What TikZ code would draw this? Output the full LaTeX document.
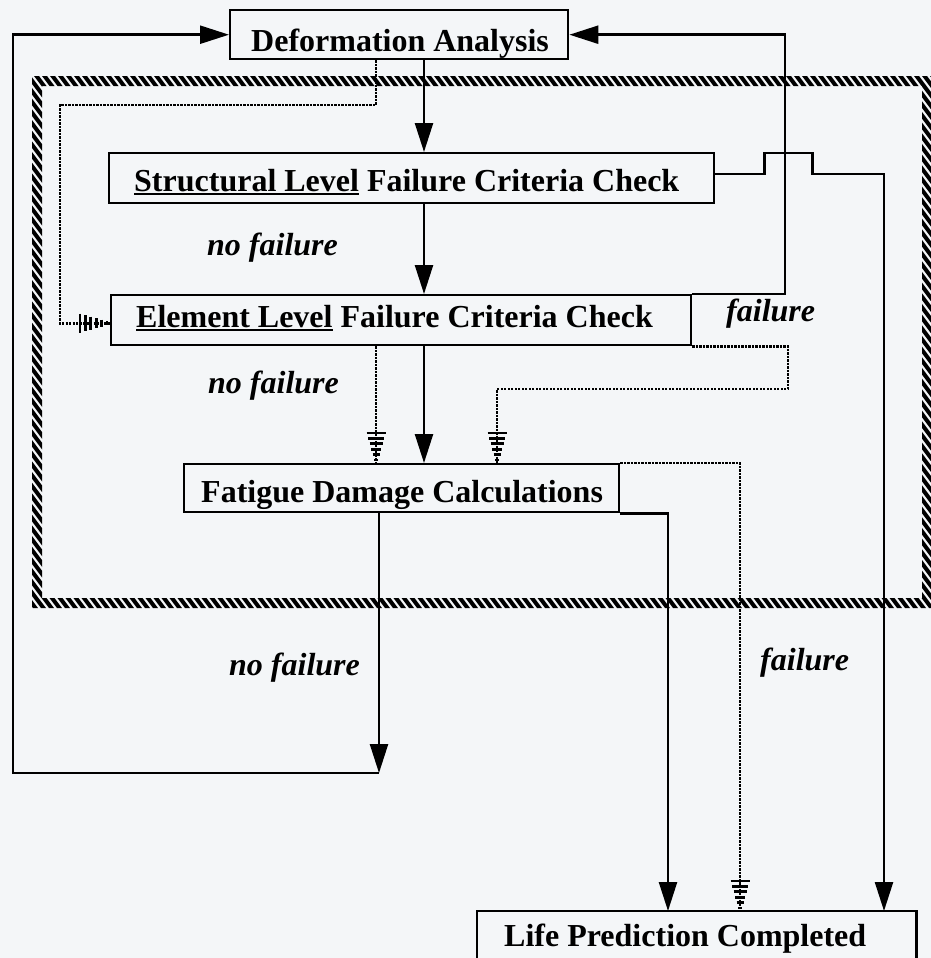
\documentclass[tikz,border=0pt]{standalone}
\usepackage{fontspec}
\setmainfont{Liberation Serif}
\usetikzlibrary{arrows.meta}
\definecolor{bgc}{RGB}{244,246,248}
\newcommand\bxt[3]{\hbox to #1pt{\hskip#2pt\relax #3\hfil}}
\newcommand\ulx[1]{\setbox0\hbox{#1}\rlap{\vrule width\wd0 height -2pt depth 3.8pt}\box0\relax}
\begin{document}
\begin{tikzpicture}[x=1pt,y=-1pt,
  box/.style={draw, line width=2.4pt, inner sep=0pt, anchor=north west, font=\fontsize{32}{38}\selectfont\bfseries},
  lab/.style={anchor=base west, inner sep=0pt, font=\fontsize{32}{38}\selectfont\bfseries\itshape},
  arr/.style={line width=2.4pt, -{Triangle[length=29pt,width=18pt]}},
  ln/.style={line width=2.4pt},
  dots/.style={line width=2.8pt, dash pattern=on 2.2pt off 1.3pt},
  pics/hatchdown/.style={code={\foreach \i in {0,...,5}{\draw[line width=2.8pt] (-2-1.5*\i,-3-5.4*\i) -- (2+1.5*\i,-3-5.4*\i);}}},
  pics/hatchright/.style={code={\foreach \i in {0,...,5}{\draw[line width=2.8pt] (-3-5.4*\i,-2-1.5*\i) -- (-3-5.4*\i,2+1.5*\i);}}},
]
\fill[bgc] (0,0) rectangle (931,958);
\path[use as bounding box] (0,0) rectangle (931,958);

% hatched frame
\begin{scope}
\clip (32,76) rectangle (931,86) (32,598) rectangle (931,608) (32,76) rectangle (42,608) (922,76) rectangle (931,608);
\foreach \c in {-560,-552,...,944} \draw[line width=4pt] (\c,70) -- ++(420,560);
\end{scope}

% boxes
\node[box, text height=41pt, text depth=8pt] (def) at (229,9) {\bxt{338}{21}{Deformation Analysis}};
\node[box, text height=38pt, text depth=12pt] (str) at (108,152) {\bxt{605}{25}{\ulx{Structural Level} Failure Criteria Check}};
\node[box, text height=32pt, text depth=18pt] (elem) at (110,294) {\bxt{580}{25}{\ulx{Element Level} Failure Criteria Check}};
\node[box, text height=38pt, text depth=10pt] (fat) at (183,463) {\bxt{435}{17}{Fatigue Damage Calculations}};
\node[box, draw=none, text height=34pt, text depth=16pt] (life) at (477,911) {\bxt{437}{26}{Life Prediction Completed}};
\draw[ln] (life.south west) |- (life.north east) -- (life.south east);

% reference coordinates
\coordinate (ax) at (424,0);
\coordinate (dx) at (376,0);
\coordinate (hx) at (379,0);
\coordinate (rx) at (785,0);
\coordinate (fx) at (884,0);
\coordinate (gx) at (668,0);
\coordinate (px) at (740,0);
\coordinate (qx) at (497,0);
\coordinate (loop) at (379,773);

% solid connectors
\draw[arr] (def.south -| ax) -- (str.north -| ax);
\draw[arr] (str.south -| ax) -- (elem.north -| ax);
\draw[arr] (elem.south -| ax) -- (fat.north -| ax);
\draw[arr] (elem.north east) -| (rx |- def.east) -- (def.east);
\draw[arr] ([yshift=4pt]str.east) -- ++(49,0) -- ++(0,-21) -- ++(48,0) -- ++(0,21) -| (life.north -| fx);
\draw[arr] (fat.south east) -| (life.north -| gx);
\draw[arr] (fat.south -| hx) -- (loop);
\draw[arr] (loop) -- (13,773) |- (def.west);

% dotted connectors
\draw[dots] (def.south -| dx) |- (60,105) |- ([yshift=-3pt]elem.west);
\path ([yshift=-3pt]elem.west) pic {hatchright};
\draw[dots] (elem.south -| dx) -- (fat.north -| dx);
\path (fat.north -| dx) pic {hatchdown};
\draw[dots] (elem.south east) -| (788,389) -| (fat.north -| qx);
\path (fat.north -| qx) pic {hatchdown};
\draw[dots] (fat.north east) -| (life.north -| px);
\path (life.north -| px) pic {hatchdown};

% labels
\node[lab] (nf1) at (207,255) {no failure};
\node[lab] (nf2) at (208,393) {no failure};
\node[lab] (nf3) at (229,675) {no failure};
\node[lab] (f1) at (726,321) {failure};
\node[lab] (f2) at (760,670) {failure};
\end{tikzpicture}
\end{document}
